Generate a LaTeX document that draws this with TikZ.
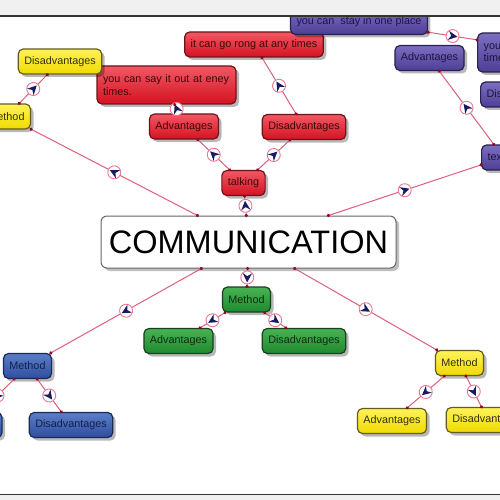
\documentclass[tikz,border=0pt]{standalone}
\usepackage{fontspec}
\setmainfont{Liberation Sans}
\usetikzlibrary{shadows,decorations.markings}
\definecolor{rtop}{RGB}{242,88,100}
\definecolor{rbot}{RGB}{212,18,34}
\definecolor{rdraw}{RGB}{110,20,25}
\definecolor{rtext}{RGB}{60,8,10}
\definecolor{ytop}{RGB}{255,242,90}
\definecolor{ybot}{RGB}{240,218,0}
\definecolor{ydraw}{RGB}{100,92,30}
\definecolor{ytext}{RGB}{50,50,15}
\definecolor{ptop}{RGB}{124,110,192}
\definecolor{pbot}{RGB}{78,62,150}
\definecolor{pdraw}{RGB}{40,32,80}
\definecolor{ptext}{RGB}{28,22,64}
\definecolor{gtop}{RGB}{74,178,84}
\definecolor{gbot}{RGB}{30,138,46}
\definecolor{gdraw}{RGB}{25,64,32}
\definecolor{gtext}{RGB}{12,44,16}
\definecolor{btop}{RGB}{92,126,200}
\definecolor{bbot}{RGB}{46,78,158}
\definecolor{bdraw}{RGB}{26,42,85}
\definecolor{btext}{RGB}{20,32,74}
\definecolor{linkc}{RGB}{222,96,122}
\definecolor{ringc}{RGB}{232,120,150}
\definecolor{dotc}{RGB}{140,10,40}
\definecolor{navyc}{RGB}{26,26,96}
\definecolor{headc}{RGB}{240,240,240}
\newcommand\lnkmarker{%
  \fill[white] (0pt,0pt) circle (6.5pt);
  \draw[ringc, line width=0.9pt] (0pt,0pt) circle (6.5pt);
  \fill[navyc] (5pt,0pt) -- (-4.2pt,4.6pt) -- (-1.3pt,0pt) -- (-4.2pt,-4.6pt) -- cycle;}
\begin{document}
\begin{tikzpicture}[x=1pt,y=-1pt,
  box/.style={rounded corners=5pt, draw, line width=1.2pt, inner xsep=6pt, inner ysep=2pt,
    minimum height=25pt, font=\fontsize{10.8}{12.5}\selectfont,
    drop shadow={shadow xshift=3pt,shadow yshift=-3pt,opacity=0.28,fill=black}},
  redbox/.style={box, top color=rtop, bottom color=rbot, draw=rdraw, text=rtext},
  yelbox/.style={box, top color=ytop, bottom color=ybot, draw=ydraw, text=ytext},
  purbox/.style={box, top color=ptop, bottom color=pbot, draw=pdraw, text=ptext},
  grnbox/.style={box, top color=gtop, bottom color=gbot, draw=gdraw, text=gtext},
  blubox/.style={box, top color=btop, bottom color=bbot, draw=bdraw, text=btext},
  whitebox/.style={rounded corners=6pt, draw=black!60, line width=1pt, fill=white,
    minimum width=295pt, minimum height=52pt, inner sep=0pt,
    font=\fontsize{32.5}{36}\selectfont,
    drop shadow={shadow xshift=3pt,shadow yshift=-3pt,opacity=0.25,fill=black}},
  link/.style={draw=linkc, line width=1pt, postaction={decorate},
    decoration={markings,
      mark=at position 0 with {\fill[dotc] (0pt,0pt) circle (1.8pt);},
      mark=at position 0.5 with {\lnkmarker},
      mark=at position 1 with {\fill[dotc] (0pt,0pt) circle (1.8pt);}}}
]
\useasboundingbox (0,0) rectangle (500,500);
\clip (0,0) rectangle (500,500);
\fill[white] (0,0) rectangle (500,500);
% nodes
\node[whitebox] (comm) at (248.5,242) {COMMUNICATION};
\node[redbox] (talk) at (243.5,183) {talking};
\node[redbox] (radv) at (184,126.5) {Advantages};
\node[redbox] (rdis) at (304,127) {Disadvantages};
\node[redbox, text width=127pt, align=left, minimum height=38pt] (rsay) at (166.5,85) {you can say it out at eney\\times.};
\node[redbox] (rrong) at (254,44.5) {it can go rong at any times};
\node[purbox, minimum height=26pt] (pstay) at (359,21.5) {you can~ stay in one place};
\node[purbox] (padv) at (429.5,58) {Advantages};
\node[purbox, anchor=west, text width=150pt, align=left, minimum height=39pt] (pyou) at (477,52.5) {you\\times};
\node[purbox, anchor=west] (pdis) at (480,94.5) {Disadvantages};
\node[purbox, anchor=west] (ptxt) at (481,157.5) {texting};
\node[yelbox] (ymeth) at (6.5,116.5) {Method};
\node[yelbox] (ydis) at (60,61.5) {Disadvantages};
\node[grnbox] (gmeth) at (246.5,299.5) {Method};
\node[grnbox] (gadv) at (178.5,341) {Advantages};
\node[grnbox] (gdis) at (304,341) {Disadvantages};
\node[blubox] (bmeth) at (27.5,366) {Method};
\node[blubox] (badv) at (-32.5,425) {Advantages};
\node[blubox] (bdis) at (71,425) {Disadvantages};
\node[yelbox] (ymethb) at (459.5,363) {Method};
\node[yelbox] (yadvb) at (392,421) {Advantages};
\node[yelbox] (ydisb) at (488,420) {Disadvantages};
% connectors
\foreach \a/\b in {comm/talk, comm/ymeth, comm/ptxt, comm/bmeth, comm/gmeth, comm/ymethb,
  talk/radv, talk/rdis, radv/rsay, rdis/rrong, ymeth/ydis, ptxt/padv, pstay/pyou,
  gmeth/gadv, gmeth/gdis, bmeth/badv, bmeth/bdis, ymethb/yadvb, ymethb/ydisb}
  \path[link] (\a) -- (\b);
% window frame
\fill[headc] (0,0) rectangle (500,15.5);
\draw[black!80, line width=1.6pt] (0,16) -- (500,16);
\fill[headc] (0,495) rectangle (500,500);
\draw[black!80, line width=1.6pt] (0,494.5) -- (500,494.5);
\end{tikzpicture}
\end{document}
